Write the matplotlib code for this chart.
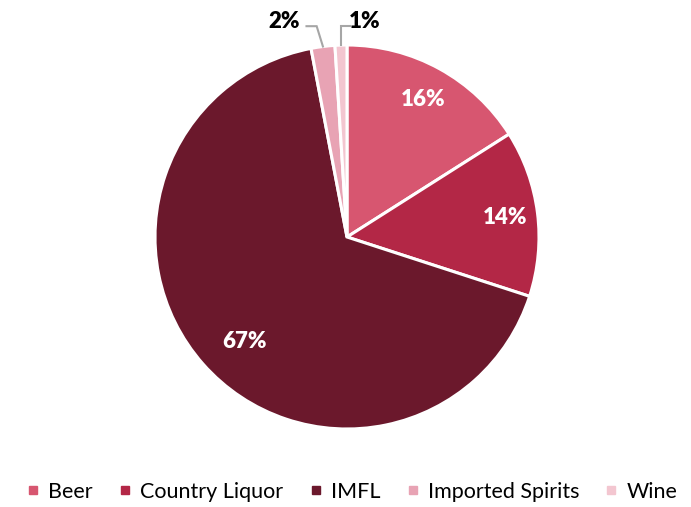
import numpy as np
import matplotlib.pyplot as plt
from matplotlib.lines import Line2D

categories = ['Beer', 'Country Liquor', 'IMFL', 'Imported Spirits', 'Wine']
shares = [16, 14, 67, 2, 1]
colors = ['#D75670', '#B32746', '#6B182C', '#E8A3B4', '#F3C6D0']

plt.rcParams['font.family'] = ['Lato', 'DejaVu Sans']

fig = plt.figure(figsize=(6.91, 5.07), dpi=100)
ax = fig.add_axes([155 / 691, 78 / 507, 384 / 691, 384 / 507])

wedges, _ = ax.pie(shares, colors=colors, startangle=90, counterclock=False,
                   radius=1.0, wedgeprops=dict(edgecolor='white', linewidth=2.2))
ax.set_xlim(-1, 1)
ax.set_ylim(-1, 1)
ax.set_aspect('equal')
ax.axis('off')

# inside labels for the big slices
inside = {0: 0.82, 1: 0.83, 2: 0.76}
for i, r in inside.items():
    w = wedges[i]
    ang = np.deg2rad((w.theta1 + w.theta2) / 2)
    if i == 2:
        ang = np.deg2rad(225.6)
    ax.text(r * np.cos(ang), r * np.sin(ang), f'{shares[i]}%', color='white',
            fontsize=16, fontweight='heavy', ha='center', va='center')

# outside labels with leader lines for the small slices
grey = '#A6A6A6'
for i, (tx, ty, elbow_x) in {3: (-0.326, 1.125, -0.158), 4: (0.09, 1.125, 0.0)}.items():
    w = wedges[i]
    ang = np.deg2rad((w.theta1 + w.theta2) / 2)
    x0, y0 = np.cos(ang), np.sin(ang)
    ly = 1.098
    if i == 3:
        xs = [x0, elbow_x, tx + 0.115]
        ys = [y0, ly, ly]
    else:
        xs = [x0, x0, tx - 0.075]
        ys = [y0, ly, ly]
    ax.plot(xs, ys, color=grey, lw=1.5, clip_on=False, solid_joinstyle='miter')
    ax.text(tx, ty, f'{shares[i]}%', color='black', fontsize=16,
            fontweight='heavy', ha='center', va='center', clip_on=False)

handles = [Line2D([], [], marker='s', linestyle='', markersize=6,
                  markerfacecolor=c, markeredgecolor=c) for c in colors]
fig.legend(handles, categories, loc='center', bbox_to_anchor=(0.508, 1 - 492 / 507),
           ncol=5, frameon=False, fontsize=15.5, handletextpad=0.3,
           columnspacing=1.1, handlelength=0.8)

fig.savefig('out.png', dpi=100)
